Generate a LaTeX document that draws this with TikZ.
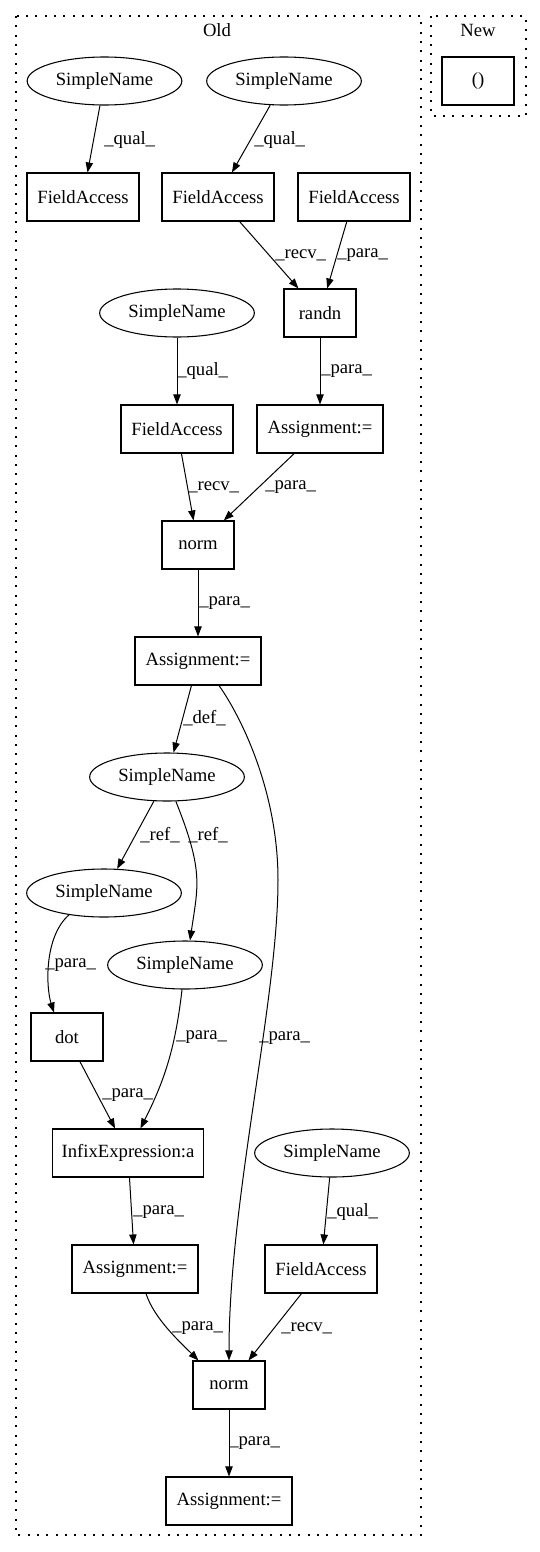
\documentclass[tikz,border=0pt]{standalone}
\usepackage{fontspec}
\setmainfont{Liberation Serif}
\usetikzlibrary{arrows.meta,shapes.geometric,calc}
\begin{document}
\begin{tikzpicture}[x=0.75pt,y=0.75pt,
  every node/.style={font=\fontsize{14}{16}\selectfont},
  box/.style={draw,rectangle,minimum height=36pt,inner sep=0pt,line width=0.8pt},
  ell/.style={draw,ellipse,minimum width=116pt,minimum height=36pt,inner sep=0pt,line width=0.8pt},
  fa/.style={box,minimum width=84pt},
  sm/.style={box,minimum width=54pt},
  asg/.style={box,minimum width=94.5pt},
  edge/.style={-{Triangle[length=7.5pt,width=5.5pt]},line width=0.75pt},
  lbl/.style={anchor=west,inner sep=0pt},
  cluster/.style={draw,line width=1pt,dash pattern=on 1.4pt off 5.6pt}]
\useasboundingbox (0,0) rectangle (539,-1552);
% clusters
\draw[cluster] (16,-16) rectangle (421,-1535);
\draw[cluster] (431,-16) rectangle (526,-116);
\node (oldlbl) at (217,-30) {Old};
\node (newlbl) at (478,-30) {New};
\node[sm] (nb) at (478,-81) {()};
% nodes
\node[ell] (sn1) at (104.5,-81) {SimpleName};
\node[ell] (sn2) at (284,-81) {SimpleName};
\node[fa] (fa1) at (83,-197) {FieldAccess};
\node[fa] (fa2) at (218,-197) {FieldAccess};
\node[fa] (fa3) at (354,-197) {FieldAccess};
\node[ell] (sn3) at (177,-313) {SimpleName};
\node[sm] (randn) at (320,-313) {randn};
\node[fa] (fa4) at (177,-429) {FieldAccess};
\node[asg] (as1) at (320,-429) {Assignment:=};
\node[sm] (n1) at (198,-545) {norm};
\node[asg] (as2) at (198,-661) {Assignment:=};
\node[ell] (sn4) at (167,-777) {SimpleName};
\node[ell] (sn5) at (104,-893) {SimpleName};
\node[ell] (sn6) at (185,-965) {SimpleName};
\node[sm] (dot) at (67,-1037) {dot};
\node[box,minimum width=113pt] (infix) at (128,-1153) {InfixExpression:a};
\node[ell] (sn7) at (332,-1153) {SimpleName};
\node[asg] (as3) at (135,-1269) {Assignment:=};
\node[fa] (fa5) at (321,-1269) {FieldAccess};
\node[sm] (n2) at (229,-1385) {norm};
\node[asg] (as4) at (229,-1501) {Assignment:=};
% edges
\draw[edge] (sn1) -- (fa1);
\node[lbl] (l1) at (104,-140) {\_qual\_};
\draw[edge] (sn2) -- (fa2);
\node[lbl] (l2) at (254,-140) {\_qual\_};
\draw[edge] (fa2) -- (randn);
\node[lbl] (l3) at (275,-255) {\_recv\_};
\draw[edge] (fa3) -- (randn);
\node[lbl] (l4) at (337,-255) {\_para\_};
\draw[edge] (sn3) -- (fa4);
\node[lbl] (l5) at (177,-371) {\_qual\_};
\draw[edge] (randn) -- (as1);
\node[lbl] (l6) at (321,-371) {\_para\_};
\draw[edge] (fa4) -- (n1);
\node[lbl] (l7) at (188,-487) {\_recv\_};
\draw[edge] (as1) -- (n1);
\node[lbl] (l8) at (265,-487) {\_para\_};
\draw[edge] (n1) -- (as2);
\node[lbl] (l9) at (199,-603) {\_para\_};
\draw[edge] (as2) -- (sn4);
\node[lbl] (l10) at (183,-718) {\_def\_};
\draw[edge] ($(as2.south)+(21,0)$) .. controls (240,-715) and (278,-790) .. (278,-880)
   .. controls (278,-1000) and (229,-1200) .. (n2.north);
\node[lbl] (l11) at (259,-1038) {\_para\_};
\draw[edge] (sn4) -- (sn5);
\node[lbl] (l12) at (140,-835) {\_ref\_};
\draw[edge] (sn4.-70) .. controls +(28,-70) and +(8,55) .. ($(sn6.north)+(5,0)$);
\node[lbl] (l13) at (188,-835) {\_ref\_};
\draw[edge] (sn5.-148) .. controls +(-25,-22) and +(-8,25) .. ($(dot.north)+(-13,0)$);
\node[lbl] (l14) at (45,-965) {\_para\_};
\draw[edge] (sn6) to[bend left=10] (infix);
\node[lbl] (l15) at (176,-1037) {\_para\_};
\draw[edge] (dot) -- (infix);
\node[lbl] (l16) at (102,-1095) {\_para\_};
\draw[edge] (infix) -- (as3);
\node[lbl] (l17) at (133,-1212) {\_para\_};
\draw[edge] (sn7) -- (fa5);
\node[lbl] (l18) at (327,-1212) {\_qual\_};
\draw[edge] ($(as3.south)+(11,0)$) .. controls +(8,-25) and +(-18,18) .. ($(n2.north west)+(6,0)$);
\node[lbl] (l19) at (172,-1328) {\_para\_};
\draw[edge] (fa5) -- (n2);
\node[lbl] (l20) at (281,-1328) {\_recv\_};
\draw[edge] (n2) -- (as4);
\node[lbl] (l21) at (229,-1443) {\_para\_};
\end{tikzpicture}
\end{document}
